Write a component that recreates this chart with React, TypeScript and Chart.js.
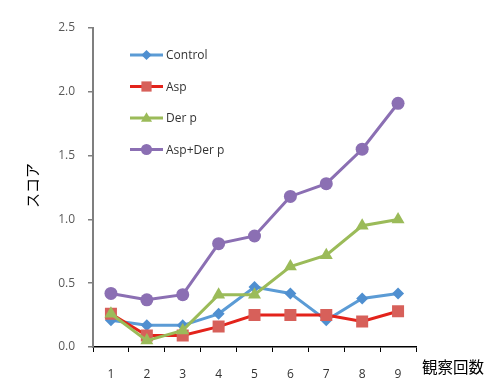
import React, { useEffect, useRef } from "react";
import { Chart, registerables } from "chart.js";

Chart.register(...registerables);

// Observation rounds on the x axis
const rounds = ["1", "2", "3", "4", "5", "6", "7", "8", "9"];

// Score per group
const control = [0.21, 0.17, 0.17, 0.26, 0.47, 0.42, 0.21, 0.38, 0.42];
const asp = [0.26, 0.09, 0.09, 0.16, 0.25, 0.25, 0.25, 0.2, 0.28];
const derP = [0.26, 0.05, 0.13, 0.41, 0.41, 0.63, 0.72, 0.95, 1.0];
const aspDerP = [0.42, 0.37, 0.41, 0.81, 0.87, 1.18, 1.28, 1.55, 1.91];

const seriesNames = ["Control", "Asp", "Der p", "Asp+Der p"];
const yAxisTitle = "スコア";
const xAxisTitle = "観察回数";

const FONT = "'Open Sans', 'Noto Sans', sans-serif";
const CJK = "'Noto Sans CJK JP', sans-serif";

const styles = [
  { line: "#5b9bd5", point: "#4f8fd0", shape: "rectRot", radius: 6 },
  { line: "#e3231b", point: "#d7605a", shape: "rect", radius: 8.5 },
  { line: "#9bbb59", point: "#9bbb59", shape: "triangle", radius: 7.5 },
  { line: "#8b6fb3", point: "#8b6fb3", shape: "circle", radius: 6.5 },
];

// Small marker used by the legend swatches
function marker(ctx: CanvasRenderingContext2D, shape: string, x: number, y: number, r: number) {
  ctx.beginPath();
  if (shape === "circle") {
    ctx.arc(x, y, r, 0, Math.PI * 2);
  } else if (shape === "rect") {
    const s = r * Math.SQRT1_2;
    ctx.rect(x - s, y - s, 2 * s, 2 * s);
  } else if (shape === "rectRot") {
    ctx.moveTo(x, y - r);
    ctx.lineTo(x + r, y);
    ctx.lineTo(x, y + r);
    ctx.lineTo(x - r, y);
    ctx.closePath();
  } else {
    const h = r * 1.5;
    ctx.moveTo(x, y - h * 0.6);
    ctx.lineTo(x + r * 0.87, y + h * 0.4);
    ctx.lineTo(x - r * 0.87, y + h * 0.4);
    ctx.closePath();
  }
  ctx.fill();
}

// Draws the in-plot legend and both axis titles
const decorations = {
  id: "decorations",
  afterDraw(chart: any) {
    const ctx = chart.ctx as CanvasRenderingContext2D;
    const area = chart.chartArea;
    ctx.save();

    // legend
    const lx = area.left + 37;
    let ly = area.top + 27;
    chart.data.datasets.forEach((ds: any, i: number) => {
      const st = styles[i];
      ctx.strokeStyle = st.line;
      ctx.lineWidth = 3;
      ctx.beginPath();
      ctx.moveTo(lx, ly);
      ctx.lineTo(lx + 33, ly);
      ctx.stroke();
      ctx.fillStyle = st.point;
      marker(ctx, st.shape, lx + 16.5, ly, st.radius * 0.85);
      ctx.fillStyle = "#333333";
      ctx.font = `12px ${FONT}`;
      ctx.textAlign = "left";
      ctx.textBaseline = "middle";
      ctx.fillText(ds.label, lx + 36, ly + 1);
      ly += 31.5;
    });

    // y title
    ctx.fillStyle = "#000000";
    ctx.font = `15px ${CJK}`;
    ctx.translate(32, (area.top + area.bottom) / 2 - 2);
    ctx.rotate(-Math.PI / 2);
    ctx.textAlign = "center";
    ctx.textBaseline = "middle";
    ctx.fillText(yAxisTitle, 0, 0);
    ctx.restore();

    // x title
    ctx.save();
    ctx.fillStyle = "#000000";
    ctx.font = `15.5px ${CJK}`;
    ctx.textAlign = "left";
    ctx.textBaseline = "middle";
    ctx.fillText(xAxisTitle, area.right + 6, area.bottom + 20);
    ctx.restore();
  },
};

export default function App() {
  const canvasRef = useRef<HTMLCanvasElement | null>(null);

  useEffect(() => {
    const values = [control, asp, derP, aspDerP];
    const chart = new Chart(canvasRef.current as HTMLCanvasElement, {
      type: "line",
      data: {
        labels: rounds,
        datasets: values.map((v, i) => ({
          label: seriesNames[i],
          data: v,
          borderColor: styles[i].line,
          backgroundColor: styles[i].point,
          pointBackgroundColor: styles[i].point,
          pointBorderWidth: 0,
          pointStyle: styles[i].shape as any,
          pointRadius: styles[i].radius,
          borderWidth: 3,
          tension: 0,
          order: 4 - i,
        })),
      },
      options: {
        animation: false,
        responsive: false,
        maintainAspectRatio: false,
        events: [],
        layout: { padding: { left: 0, top: 28, right: 69, bottom: 0 } },
        plugins: {
          legend: { display: false },
          tooltip: { enabled: false },
          title: { display: false },
        },
        scales: {
          x: {
            offset: true,
            grid: {
              offset: true,
              drawOnChartArea: false,
              drawTicks: true,
              tickLength: 5,
              color: "#000000",
              lineWidth: 1,
            },
            border: { color: "#000000", width: 1.5 },
            ticks: {
              color: "#333333",
              font: { family: FONT, size: 12 },
              padding: 15,
              maxRotation: 0,
            },
            afterFit(scale: any) {
              scale.height = 32;
            },
          },
          y: {
            min: 0,
            max: 2.5,
            grid: {
              drawOnChartArea: false,
              drawTicks: true,
              tickLength: 5,
              color: "#808080",
              lineWidth: 1.5,
            },
            border: { color: "#7f7f7f", width: 2 },
            ticks: {
              stepSize: 0.5,
              color: "#595959",
              font: { family: FONT, size: 12 },
              padding: 13,
              callback: (v: any) => Number(v).toFixed(1),
            },
            afterFit(scale: any) {
              scale.width = 93;
            },
          },
        },
      },
      plugins: [decorations],
    });
    return () => chart.destroy();
  }, []);

  return (
    <div style={{ position: "fixed", left: 0, top: 0, width: 485, height: 379, background: "#ffffff" }}>
      <canvas ref={canvasRef} width={485} height={379} />
    </div>
  );
}
